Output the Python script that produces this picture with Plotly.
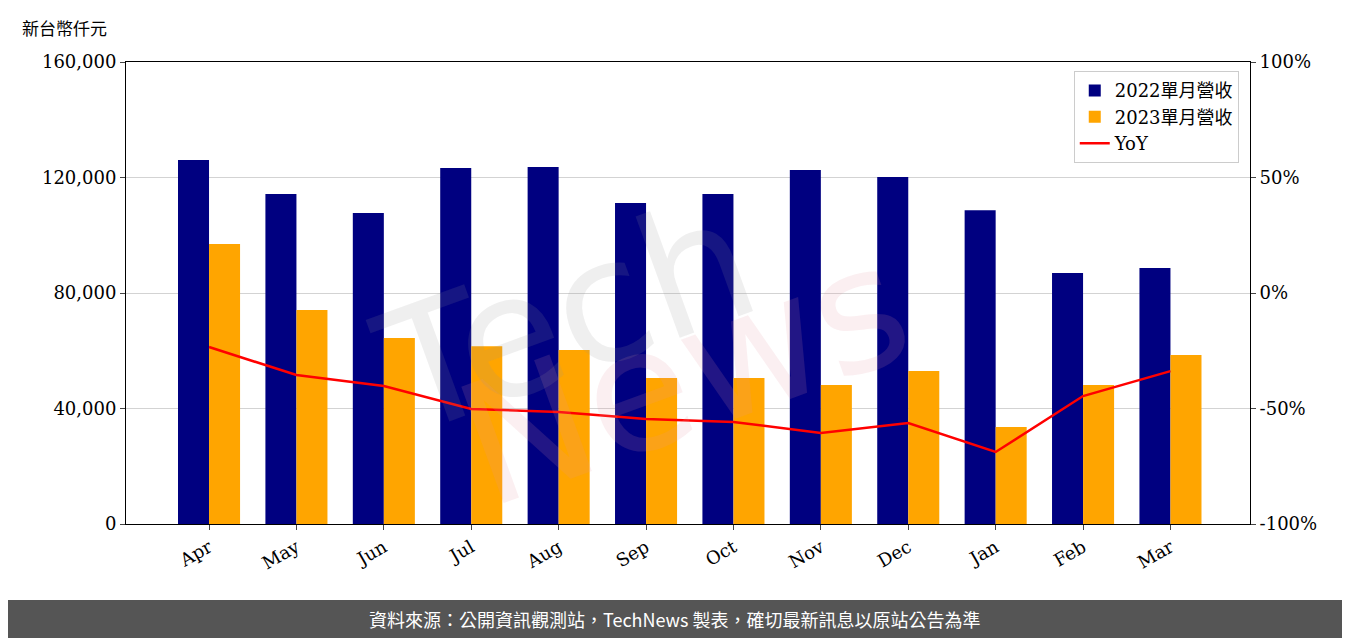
import plotly.graph_objects as go

months = ["Apr","May","Jun","Jul","Aug","Sep","Oct","Nov","Dec","Jan","Feb","Mar"]
rev2022 = [126100,114300,107700,123300,123600,111200,114300,122600,120200,108700,86900,88700]
rev2023 = [97000,74100,64400,61600,60300,50600,50600,48100,53000,33600,48100,58500]
yoy = [-23.4,-35.5,-40.3,-50.2,-51.5,-54.5,-55.8,-60.6,-56.3,-68.8,-44.6,-33.8]
y2_ticks = [-100,-50,0,50,100]
y2_labels = ["-100%","-50%","0%","50%","100%"]

F = "DejaVu Serif"
fig = go.Figure()
fig.add_bar(x=months, y=rev2022, name="2022單月營收", marker=dict(color="#000080", line_width=0), offsetgroup=0)
fig.add_bar(x=months, y=rev2023, name="2023單月營收", marker=dict(color="#FFA500", line_width=0), offsetgroup=1)
fig.add_scatter(x=months, y=yoy, name="YoY", mode="lines", line=dict(color="red", width=2.5), yaxis="y2")

fig.update_layout(
    width=1342, height=630, plot_bgcolor="white", paper_bgcolor="white",
    margin=dict(l=118, r=100, t=54, b=114, autoexpand=False),
    font=dict(family=F, size=18, color="black"),
    barmode="group", bargap=0.29, bargroupgap=0,
    xaxis=dict(tickangle=-30, showline=True, linecolor="black", mirror=True, ticks="outside",
               range=[-0.95, 11.91], automargin=False),
    yaxis=dict(range=[0,160000], tickvals=[0,40000,80000,120000,160000], tickformat=",", automargin=False,
               showgrid=True, gridcolor="#d3d3d3", showline=True, linecolor="black", ticks="outside", zeroline=False),
    yaxis2=dict(range=[-100,100], overlaying="y", side="right", tickvals=y2_ticks, ticktext=y2_labels, automargin=False,
                showgrid=False, ticks="outside", showline=True, linecolor="black", zeroline=False),
    legend=dict(x=0.99, y=0.98, xanchor="right", yanchor="top", bordercolor="#ccc", borderwidth=1,
                bgcolor="rgba(255,255,255,0.8)", font=dict(size=18, family="DejaVu Serif, Noto Sans CJK TC")),
)
fig.add_annotation(text="新台幣仟元", xref="paper", yref="paper", x=(12-118)/1124, y=1.0, yshift=35,
                   xanchor="left", yanchor="middle",
                   showarrow=False, font=dict(family="Noto Sans CJK TC", size=17))
fig.add_shape(type="rect", xref="paper", yref="paper", x0=-0.2, x1=1.2, y0=-140/462, y1=-76/462,
              fillcolor="#555555", line_width=0)
fig.add_annotation(text="資料來源：公開資訊觀測站，TechNews 製表，確切最新訊息以原站公告為準", xref="paper", yref="paper",
                   x=(667-118)/1124, y=-95/462, yanchor="middle", showarrow=False,
                   font=dict(family="Noto Sans CJK TC", size=18, color="white"))
fig.add_annotation(text="Tech", xref="paper", yref="paper", x=0.2, y=0.45, textangle=-20, showarrow=False,
                   font=dict(family="DejaVu Sans", size=170, color="rgba(150,150,150,0.15)"))
fig.add_annotation(text="News", xref="paper", yref="paper", x=0.72, y=0.7, textangle=-20, showarrow=False,
                   font=dict(family="DejaVu Sans", size=170, color="rgba(230,150,160,0.15)"))
fig.write_html("out.html")
